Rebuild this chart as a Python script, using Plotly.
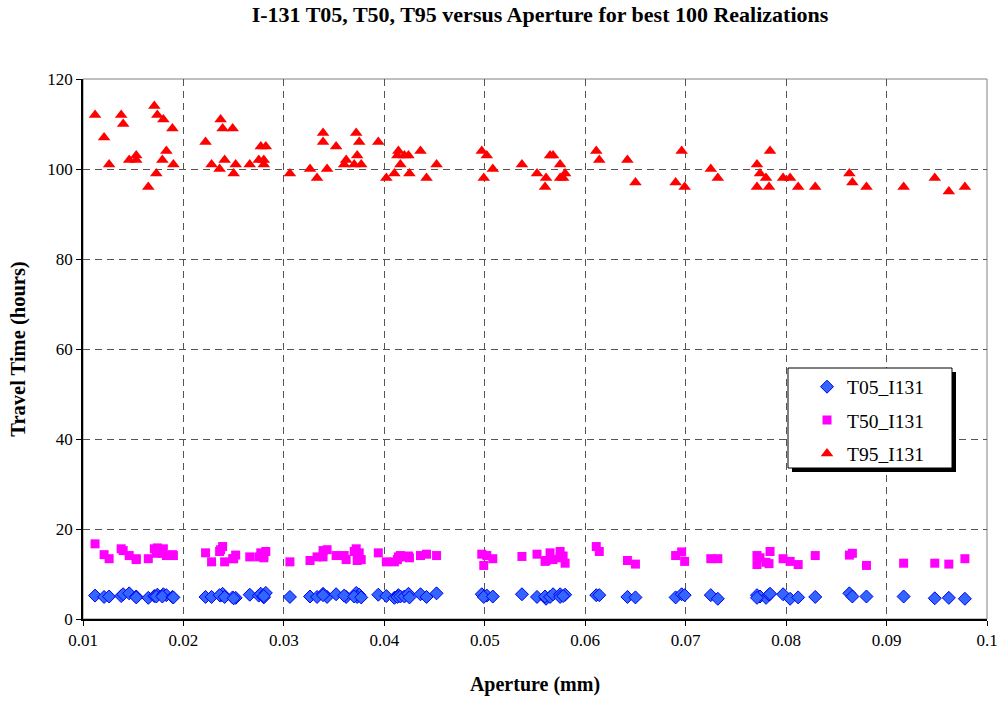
import plotly.graph_objects as go

# Aperture (mm) for each realization
aperture = [
    0.0112, 0.0121, 0.0126, 0.0138, 0.0140, 0.0146, 0.0153, 0.0153, 0.0165, 0.0171,
    0.0174, 0.0173, 0.0180, 0.0183, 0.0179, 0.0189, 0.0190,
    0.0222, 0.0237, 0.0239, 0.0249, 0.0228, 0.0236, 0.0241, 0.0252, 0.0250, 0.0266,
    0.0275, 0.0277, 0.0282, 0.0280, 0.0280,
    0.0306, 0.0326, 0.0333, 0.0343, 0.0339, 0.0339, 0.0352, 0.0362, 0.0360, 0.0372,
    0.0375, 0.0373, 0.0370, 0.0377, 0.0394, 0.0402,
    0.0410, 0.0414, 0.0413, 0.0416, 0.0420, 0.0424, 0.0425, 0.0436, 0.0442, 0.0452,
    0.0497, 0.0502, 0.0499, 0.0508, 0.0537, 0.0552, 0.0561, 0.0560, 0.0565, 0.0568,
    0.0575, 0.0580, 0.0575, 0.0578, 0.0611, 0.0614, 0.0642, 0.0650,
    0.0690, 0.0696, 0.0699, 0.0725, 0.0732, 0.0771, 0.0774, 0.0780, 0.0771, 0.0783,
    0.0784, 0.0797, 0.0804, 0.0812,
    0.0829, 0.0863, 0.0866, 0.0880, 0.0917, 0.0948, 0.0962, 0.0978,
]

t95 = [
    112, 107, 101, 112, 110, 102, 103, 102, 96, 114,
    112, 99, 111, 104, 102, 109, 101,
    106, 111, 109, 109, 101, 100, 102, 101, 99, 101,
    102, 105, 105, 102, 101,
    99, 100, 98, 100, 108, 106, 105, 102, 101, 108,
    106, 103, 101, 101, 106, 98,
    99, 104, 103, 101, 103, 103, 99, 104, 98, 101,
    104, 103, 98, 100, 101, 99, 98, 96, 103, 103,
    101, 99, 98, 98, 104, 102, 102, 97,
    97, 104, 96, 100, 98, 101, 99, 98, 96, 96,
    104, 98, 98, 96,
    96, 99, 97, 96, 96, 98, 95, 96,
]

t50 = [
    16.7, 14.3, 13.4, 15.6, 15.2, 14.1, 13.4, 13.2, 13.4, 15.6,
    15.8, 14.6, 15.6, 14.1, 14.6, 14.3, 14.1,
    14.7, 15.4, 16.1, 13.4, 12.7, 15.0, 12.7, 14.2, 13.4, 13.8,
    13.8, 14.7, 15.0, 14.0, 13.6,
    12.7, 13.0, 13.8, 15.4, 15.2, 13.8, 14.1, 13.2, 14.1, 15.6,
    14.7, 13.0, 15.0, 13.2, 14.7, 12.7,
    12.7, 13.8, 13.2, 14.1, 13.8, 14.0, 13.6, 14.1, 14.4, 14.1,
    14.4, 14.1, 11.9, 13.4, 13.9, 14.4, 13.0, 12.8, 14.7, 13.2,
    15.0, 12.4, 13.6, 14.0, 16.1, 15.0, 13.0, 12.2,
    14.1, 14.9, 12.8, 13.4, 13.4, 14.1, 13.6, 12.6, 12.1, 12.3,
    15.0, 13.4, 12.8, 12.1,
    14.1, 14.2, 14.6, 11.9, 12.4, 12.4, 12.2, 13.4,
]

t05 = [
    5.2, 4.9, 5.0, 5.1, 5.5, 5.7, 5.0, 4.8, 4.7, 5.1,
    5.4, 5.0, 5.5, 5.3, 5.0, 4.9, 4.8,
    4.9, 5.2, 5.6, 4.8, 4.9, 5.3, 4.9, 4.7, 4.6, 5.4,
    5.2, 5.6, 5.8, 4.8, 5.1,
    4.9, 5.0, 4.9, 4.9, 5.6, 5.3, 5.5, 4.9, 5.2, 5.8,
    5.4, 4.9, 5.0, 4.8, 5.4, 5.1,
    4.7, 5.3, 4.9, 5.0, 5.0, 5.6, 4.8, 5.5, 4.9, 5.7,
    5.5, 5.2, 4.9, 5.0, 5.5, 4.9, 4.5, 5.0, 4.9, 5.5,
    5.5, 5.4, 4.9, 5.1, 5.3, 5.3, 4.9, 4.8,
    4.8, 5.5, 5.3, 5.3, 4.5, 5.3, 5.0, 4.7, 4.7, 5.4,
    5.6, 5.5, 4.5, 4.8,
    4.9, 5.7, 5.0, 5.0, 5.0, 4.6, 4.7, 4.5,
]

x_tickvals = [0.01, 0.02, 0.03, 0.04, 0.05, 0.06, 0.07, 0.08, 0.09, 0.1]
x_ticktext = ["0.01", "0.02", "0.03", "0.04", "0.05", "0.06", "0.07", "0.08", "0.09", "0.1"]
y_tickvals = [0, 20, 40, 60, 80, 100, 120]

series_names = ["T05_I131", "T50_I131", "T95_I131"]

SERIF = "Liberation Serif, Times New Roman, serif"

fig = go.Figure()
fig.add_trace(go.Scatter(
    x=aperture, y=t05, mode="markers", name=series_names[0], legendgroup="a",
    marker=dict(symbol="diamond", size=10, color="#3366ff",
                line=dict(color="#0000ee", width=1)),
))
fig.add_trace(go.Scatter(
    x=aperture, y=t50, mode="markers", name=series_names[1], legendgroup="b",
    marker=dict(symbol="square", size=9, color="#ff00ff", line=dict(width=0)),
))
fig.add_trace(go.Scatter(
    x=aperture, y=t95, mode="markers", name=series_names[2], legendgroup="c",
    marker=dict(symbol="triangle-up", size=11, color="#ff0000", line=dict(width=0)),
))

L, R, T, B = 83, 14, 79, 82
W, H = 1001, 701
pw = W - L - R
ph = H - T - B

def px2paper_x(px):
    return (px - L) / pw

def px2paper_y(py):
    return (H - B - py) / ph

shapes = [
    # plot-area border (gray, top/right)
    dict(type="rect", xref="paper", yref="paper", x0=0, x1=1, y0=0, y1=1,
         line=dict(color="#808080", width=1), layer="below"),
    # legend shadow
    dict(type="rect", xref="paper", yref="paper",
         x0=px2paper_x(792), x1=px2paper_x(956), y0=px2paper_y(472), y1=px2paper_y(372),
         fillcolor="black", line=dict(width=0), layer="above"),
    # legend box
    dict(type="rect", xref="paper", yref="paper",
         x0=px2paper_x(788), x1=px2paper_x(952), y0=px2paper_y(468), y1=px2paper_y(368),
         fillcolor="white", line=dict(color="black", width=1), layer="above"),
]

fig.update_layout(
    width=W, height=H,
    margin=dict(l=L, r=R, t=T, b=B, autoexpand=False),
    paper_bgcolor="white", plot_bgcolor="white",
    font=dict(family=SERIF, size=17, color="black"),
    title=dict(text="<b>I-131 T05, T50, T95 versus Aperture for best 100 Realizations</b>",
               x=px2paper_x(540), xref="paper", xanchor="center", y=1 - 14 / H, yanchor="middle",
               font=dict(family=SERIF, size=22, color="black")),
    showlegend=True,
    legend=dict(x=px2paper_x(807), y=px2paper_y(367.5), xanchor="left", yanchor="top",
                bgcolor="rgba(0,0,0,0)", borderwidth=0,
                traceorder="grouped", tracegroupgap=5,
                font=dict(family=SERIF, size=19.5, color="black")),
    shapes=shapes,
    xaxis=dict(range=[0.01, 0.1], tickvals=x_tickvals, ticktext=x_ticktext,
               automargin=False,
               showgrid=True, gridcolor="#555555", griddash="7px,5px", gridwidth=1,
               showline=True, linecolor="black", linewidth=1.5,
               ticks="outside", ticklen=5, tickcolor="black",
               zeroline=False,
               title=dict(text="<b>Aperture (mm)</b>", font=dict(family=SERIF, size=20), standoff=28),
               tickfont=dict(family=SERIF, size=17)),
    yaxis=dict(range=[0, 120], tickvals=y_tickvals,
               automargin=False,
               showgrid=True, gridcolor="#555555", griddash="7px,5px", gridwidth=1,
               showline=True, linecolor="black", linewidth=1.5,
               ticks="outside", ticklen=5, tickcolor="black",
               zeroline=False,
               title=dict(text="<b>Travel Time (hours)</b>", font=dict(family=SERIF, size=20.5), standoff=16),
               tickfont=dict(family=SERIF, size=17)),
)

fig.write_html("out.html")
